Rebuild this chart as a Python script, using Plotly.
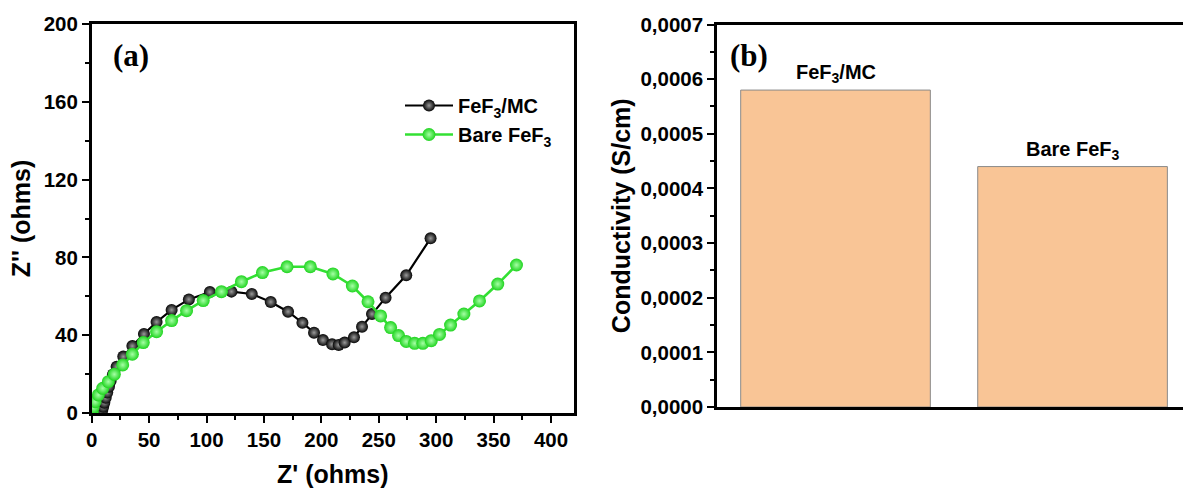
import plotly.graph_objects as go

# ---- Panel (a): Nyquist data ----
zr_mc = [8.5, 9.2, 10.0, 11.0, 12.2, 13.5, 15.0, 16.5, 18.5, 21.7, 27.5, 35.4, 45.5, 56.5,
         69.6, 84.6, 102.9, 121.7, 139.4, 155.9, 171.0, 183.5, 193.6, 201.4, 209.3, 215.1,
         220.3, 228.4, 235.4, 244.1, 255.9, 273.9, 295.1]
zi_mc = [0.0, 1.5, 3.2, 5.3, 7.8, 10.5, 13.5, 16.5, 19.8, 23.8, 29.0, 34.4, 40.6, 46.8,
         53.0, 58.4, 62.2, 62.4, 61.2, 57.1, 52.1, 46.4, 41.3, 37.5, 35.3, 35.0,
         36.2, 38.9, 44.4, 50.9, 59.3, 70.8, 89.8]

zr_bare = [0.5, 1.2, 2.9, 5.8, 9.6, 14.5, 19.7, 27.0, 35.4, 44.9, 56.5, 69.6, 82.6, 97.1,
           113.0, 130.4, 148.7, 170.1, 190.4, 210.1, 227.0, 240.6, 251.6, 260.3, 267.2,
           273.9, 281.2, 288.4, 295.7, 302.9, 312.5, 324.1, 337.7, 353.6, 369.9]
zi_bare = [0.0, 2.9, 5.8, 9.3, 12.7, 16.1, 19.9, 24.7, 30.2, 36.2, 41.8, 47.5, 52.6, 57.8,
           62.4, 67.5, 72.2, 75.2, 75.2, 71.5, 65.3, 57.2, 49.9, 43.9, 39.8,
           36.8, 35.8, 35.8, 37.2, 40.4, 45.2, 50.9, 57.6, 66.3, 76.1]

# ---- Panel (b): conductivity ----
bar_labels = ["FeF<sub>3</sub>/MC", "Bare FeF<sub>3</sub>"]
bar_pos = [0, 1]
conductivity = [0.00058, 0.00044]

W, H = 1183, 488
FONT = "Liberation Sans, Arial, sans-serif"

fig = go.Figure()

fig.add_trace(go.Scatter(
    x=zr_mc, y=zi_mc, mode="lines+markers", name="FeF<sub>3</sub>/MC",
    line=dict(color="black", width=2.2),
    marker=dict(size=12, color="#050505", gradient=dict(type="radial", color="#9a9a9a")),
    xaxis="x", yaxis="y"))
fig.add_trace(go.Scatter(
    x=zr_bare, y=zi_bare, mode="lines+markers", name="Bare FeF<sub>3</sub>",
    line=dict(color="#33e033", width=2.6),
    marker=dict(size=13, color="#1fd41f", gradient=dict(type="radial", color="#a6ffa6")),
    xaxis="x", yaxis="y"))

fig.add_trace(go.Bar(
    x=bar_pos, y=conductivity, width=0.8, showlegend=False,
    marker=dict(color="#f9c596", line=dict(color="#8a8a8a", width=1)),
    xaxis="x2", yaxis="y2"))

tickfont = dict(family=FONT, size=20.5, color="black", weight="bold")
titlefont = dict(family=FONT, size=25, color="black", weight="bold")

def px_x(p):
    return p / W

def px_y(p):
    return 1 - p / H

fig.update_layout(
    width=W, height=H,
    margin=dict(l=0, r=0, t=0, b=0),
    paper_bgcolor="white", plot_bgcolor="white",
    separators=",.",
    showlegend=True,
    legend=dict(x=px_x(400), y=px_y(86), xanchor="left", yanchor="top",
                itemwidth=48,
                font=dict(family=FONT, size=20, color="black", weight="bold"),
                bgcolor="rgba(0,0,0,0)", tracegroupgap=0),
    xaxis=dict(domain=[px_x(91.7), px_x(574)], range=[0, 420],
               tickmode="linear", tick0=0, dtick=50,
               ticks="outside", ticklen=7, tickwidth=2, tickcolor="black",
               minor=dict(dtick=25, ticks="outside", ticklen=4, tickwidth=2, tickcolor="black"),
               showline=True, linewidth=2.5, linecolor="black", mirror=True,
               showgrid=False, zeroline=False, tickfont=tickfont,
               title=dict(text="Z' (ohms)", font=titlefont, standoff=16),
               automargin=False, anchor="y"),
    yaxis=dict(domain=[px_y(413), px_y(24)], range=[0, 200],
               tickmode="linear", tick0=0, dtick=40,
               ticks="outside", ticklen=7, tickwidth=2, tickcolor="black",
               minor=dict(dtick=20, ticks="outside", ticklen=4, tickwidth=2, tickcolor="black"),
               showline=True, linewidth=2.5, linecolor="black", mirror=True,
               showgrid=False, zeroline=False, tickfont=tickfont,
               title=dict(text="Z'' (ohms)", font=titlefont, standoff=6),
               automargin=False, anchor="x"),
    xaxis2=dict(domain=[px_x(717), 1.0], range=[-0.5, 1.466],
                showticklabels=False, ticks="",
                showline=True, linewidth=2.5, linecolor="black", mirror=True,
                showgrid=False, zeroline=False, automargin=False, anchor="y2"),
    yaxis2=dict(domain=[px_y(407), px_y(24.5)], range=[0, 0.0007],
                tickmode="linear", tick0=0, dtick=0.0001, tickformat=".4f",
                ticks="outside", ticklen=7, tickwidth=2, tickcolor="black",
                minor=dict(dtick=0.00005, ticks="outside", ticklen=4, tickwidth=2, tickcolor="black"),
                showline=True, linewidth=2.5, linecolor="black", mirror=False,
                showgrid=False, zeroline=False, tickfont=tickfont,
                title=dict(text="Conductivity (S/cm)", font=titlefont, standoff=3),
                automargin=False, anchor="x2"),
)

serif = dict(family="Liberation Serif, Times New Roman, serif", size=31, color="black", weight="bold")
fig.add_annotation(text="(a)", xref="paper", yref="paper", x=px_x(131), y=px_y(55),
                   xanchor="center", yanchor="middle", showarrow=False, font=serif)
fig.add_annotation(text="(b)", xref="paper", yref="paper", x=px_x(749), y=px_y(55),
                   xanchor="center", yanchor="middle", showarrow=False, font=serif)

for xp, val, lab in zip(bar_pos, conductivity, bar_labels):
    fig.add_annotation(text=lab, xref="x2", yref="y2", x=xp, y=val,
                       xanchor="center", yanchor="bottom", yshift=2, showarrow=False,
                       font=dict(family=FONT, size=20, color="black", weight="bold"))

fig.write_html("out.html",
               config={"displayModeBar": False},
               post_script="document.body.style.margin='0';document.body.style.overflow='hidden';")
